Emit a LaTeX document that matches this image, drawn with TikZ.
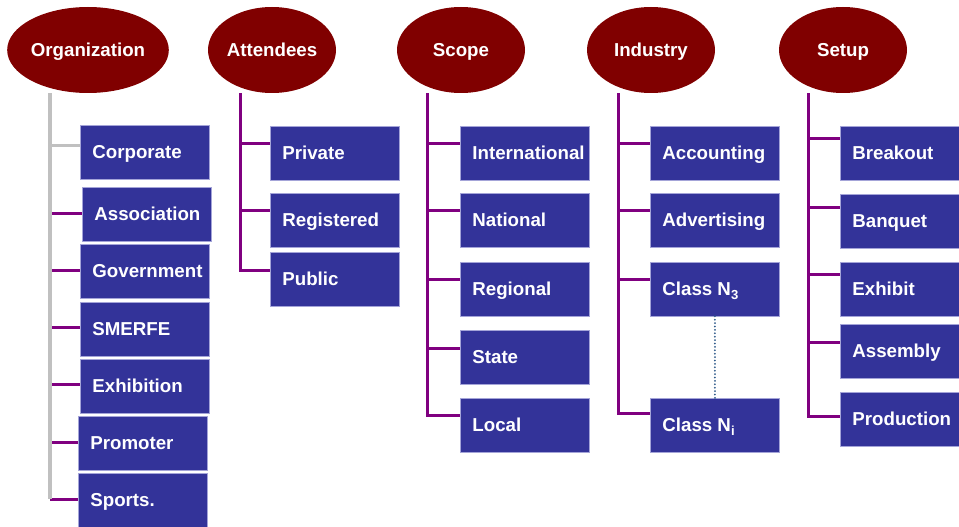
\documentclass[tikz,border=0pt]{standalone}
\usepackage{fontspec}
\setmainfont{Liberation Sans}
\usetikzlibrary{shapes.geometric}

\definecolor{boxblue}{HTML}{333399}
\definecolor{boxedge}{HTML}{A4A4D8}
\definecolor{hdrred}{HTML}{800000}
\definecolor{linkpurple}{HTML}{800080}
\definecolor{trunkgray}{HTML}{C0C0C0}
\definecolor{dotblue}{HTML}{2F5A8A}

% left-aligned label of fixed width inside an item box
\newcommand\lbl[1]{\makebox[105pt][l]{#1}}

\begin{document}
\begin{tikzpicture}[x=1pt,y=-1pt,
  txt/.style={font=\bfseries\fontsize{18.7}{22}\selectfont, text=white,
    text height=13.4pt, text depth=0pt},
  hdr/.style={txt, ellipse, fill=hdrred, inner sep=0pt,
    minimum width=128pt, minimum height=86pt},
  item/.style={txt, rectangle, fill=boxblue, draw=boxedge, line width=0.8pt,
    anchor=north west, inner xsep=12pt, inner ysep=0pt,
    minimum width=129pt, minimum height=53.5pt},
  link/.style={draw=linkpurple, line width=3pt},
  graylink/.style={draw=trunkgray, line width=3pt},
  graytrunk/.style={draw=trunkgray, line width=4.5pt},
  dots/.style={draw=dotblue, line width=2pt, line cap=round,
    dash pattern=on 0pt off 3.4pt}
]
\useasboundingbox (0,0) rectangle (959,527);
\clip (0,0) rectangle (959,527);

% column headers
\node[hdr, minimum width=156pt] (org) at (88,50) {Organization};
\node[hdr] (att) at (272,50) {Attendees};
\node[hdr] (scp) at (461,50) {Scope};
\node[hdr] (ind) at (651,50) {Industry};
\node[hdr] (set) at (843,50) {Setup};

% Organization items
\node[item] (corp)   at (80,125) {\lbl{Corporate}};
\node[item] (assoc)  at (82,187) {\lbl{Association}};
\node[item] (gov)    at (80,244) {\lbl{Government}};
\node[item] (smerfe) at (80,302) {\lbl{SMERFE}};
\node[item] (exhib)  at (80,359) {\lbl{Exhibition}};
\node[item] (promo)  at (78,416) {\lbl{Promoter}};
\node[item] (sports) at (78,473) {\lbl{Sports.}};

% Attendees items
\node[item] (priv) at (270,126) {\lbl{Private}};
\node[item] (reg)  at (270,193) {\lbl{Registered}};
\node[item] (pub)  at (270,252) {\lbl{Public}};

% Scope items
\node[item] (intl)  at (460,126) {\lbl{International}};
\node[item] (natl)  at (460,193) {\lbl{National}};
\node[item] (regl)  at (460,262) {\lbl{Regional}};
\node[item] (state) at (460,330) {\lbl{State}};
\node[item] (local) at (460,398) {\lbl{Local}};

% Industry items
\node[item] (acct) at (650,126) {\lbl{Accounting}};
\node[item] (adv)  at (650,193) {\lbl{Advertising}};
\node[item] (cn3)  at (650,262) {\lbl{Class N\textsubscript{3}}};
\node[item] (cni)  at (650,398) {\lbl{Class N\textsubscript{i}}};

% Setup items
\node[item] (brk)  at (840,126) {\lbl{Breakout}};
\node[item] (banq) at (840,194) {\lbl{Banquet}};
\node[item] (exh)  at (840,262) {\lbl{Exhibit}};
\node[item] (asm)  at (840,324) {\lbl{Assembly}};
\node[item] (prod) at (840,392) {\lbl{Production}};

% branch entry points on the items
\foreach \b/\d in {corp/7, assoc/1, gov/1, smerfe/2, exhib/2, promo/1, sports/1,
                   priv/10, reg/10, pub/9,
                   intl/10, natl/10, regl/10, state/9, local/10,
                   acct/10, adv/10, cn3/10, cni/12,
                   brk/15, banq/14, exh/15, asm/9, prod/3}
  \path ([yshift=\d pt]\b.west) coordinate (\b-in);

% trunk tops below the headers
\coordinate (tO) at (org.south -| 50,0);
\coordinate (tA) at (att.south -| 240,0);
\coordinate (tS) at (scp.south -| 427,0);
\coordinate (tI) at (ind.south -| 618,0);
\coordinate (tU) at (set.south -| 808,0);

% Organization: gray trunk with branches
\foreach \b in {assoc, gov, smerfe, exhib, promo, sports}
  \draw[link] (tO |- \b-in) -- (\b-in);
\draw[graylink] (tO |- corp-in) -- (corp-in);
\draw[graytrunk] (tO) -- (tO |- sports-in);

% Attendees
\draw[link] (tA) |- (pub-in);
\foreach \b in {priv, reg} \draw[link] (tA |- \b-in) -- (\b-in);

% Scope
\draw[link] (tS) |- (local-in);
\foreach \b in {intl, natl, regl, state} \draw[link] (tS |- \b-in) -- (\b-in);

% Industry
\draw[link] (tI) |- (cni-in);
\foreach \b in {acct, adv, cn3} \draw[link] (tI |- \b-in) -- (\b-in);
\draw[dots] (cn3.south) -- (cni.north);

% Setup
\draw[link] (tU) |- (prod-in);
\foreach \b in {brk, banq, exh, asm} \draw[link] (tU |- \b-in) -- (\b-in);
\end{tikzpicture}
\end{document}
